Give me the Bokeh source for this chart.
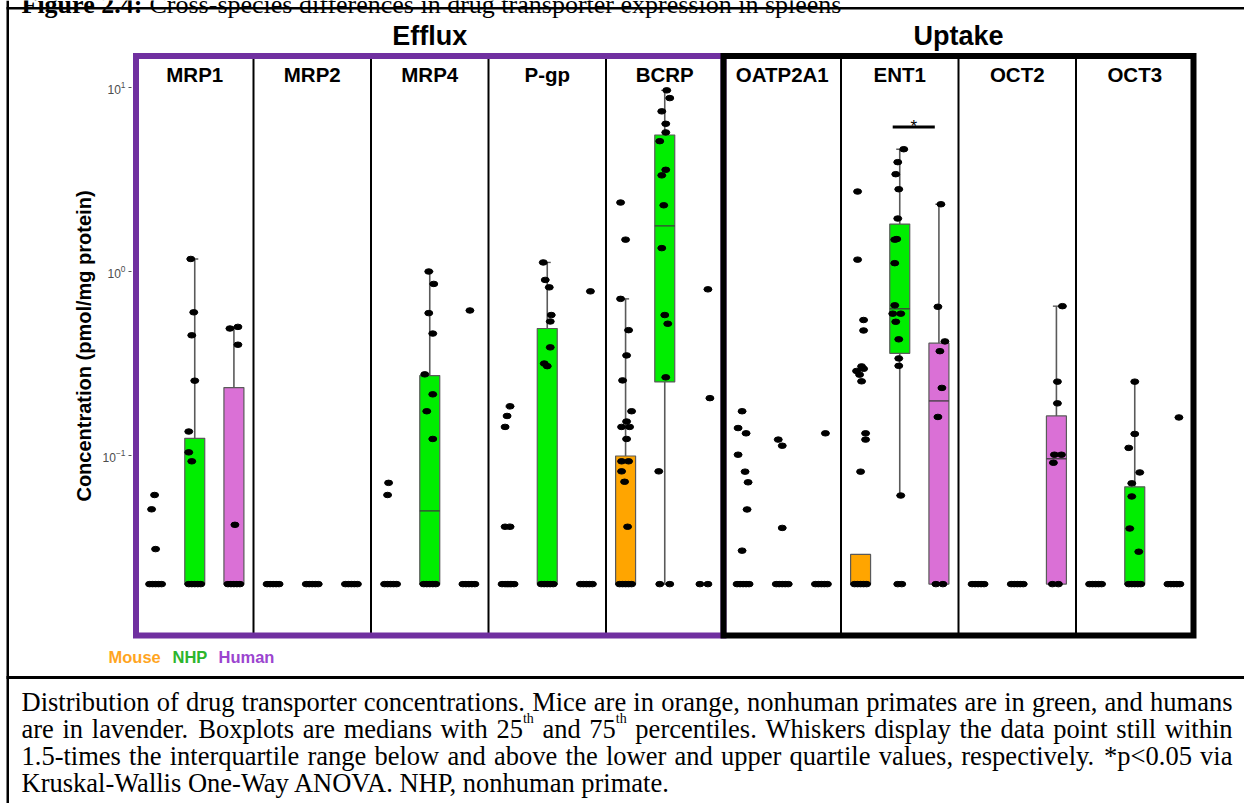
from bokeh.plotting import figure
from bokeh.models import (Range1d, FixedTicker, LogTickFormatter, Label, BoxAnnotation, ColumnDataSource,
                          LinearScale)
from bokeh.core.properties import value
from bokeh.embed import file_html
from bokeh.resources import INLINE

# ------------------------------------------------------------------ data
TRANSPORTERS = ["MRP1", "MRP2", "MRP4", "P-gp", "BCRP", "OATP2A1", "ENT1", "OCT2", "OCT3"]
FAMILIES = ["Efflux", "Uptake"]
FAMILY_FIRST = ["MRP1", "OATP2A1"]
FAMILY_LAST = ["BCRP", "OCT3"]
SPECIES = ["Mouse", "NHP", "Human"]
Y_TICKS = [0.1, 1.0, 10.0]
Y_LABEL = "Concentration (pmol/mg protein)"

LLOQ = 0.02                 # values below quantification are drawn at this level
DASH = [-6, -3, 0, 3, 6]    # horizontal jitter (px) of the overlapping LLOQ points


def at_lloq(offsets=DASH):
    return [(LLOQ, dx) for dx in offsets]


# (value pmol/mg protein, horizontal jitter in px)
PTS_MRP1 = {
    "Mouse": [(0.061, -1), (0.051, -4), (0.031, 0)] + at_lloq(),
    "NHP": [(1.17, -4), (0.60, -1), (0.45, -3), (0.255, 0), (0.135, -6), (0.104, -6), (0.093, -3)] + at_lloq(),
    "Human": [(0.49, -4), (0.50, 4), (0.40, 4), (0.042, 1)] + at_lloq(),
}
PTS_MRP2 = {"Mouse": at_lloq(), "NHP": at_lloq(), "Human": at_lloq()}
PTS_MRP4 = {
    "Mouse": [(0.071, -2), (0.061, -3)] + at_lloq(),
    "NHP": [(1.0, -1), (0.856, 4), (0.594, -1), (0.46, 3), (0.276, -5), (0.215, 3), (0.174, -3), (0.123, 3)] + at_lloq(),
    "Human": [(0.614, 1)] + at_lloq(),
}
PTS_PGP = {
    "Mouse": [(0.185, 2), (0.164, -1), (0.143, -3), (0.041, -3), (0.041, 2)] + at_lloq(),
    "NHP": [(1.12, -4), (0.90, -2), (0.82, 2), (0.58, 4), (0.535, 3), (0.387, 3), (0.316, -3), (0.306, 0)] + at_lloq(),
    "Human": [(0.78, 4)] + at_lloq(),
}
PTS_BCRP = {
    "Mouse": [(2.37, -5), (1.49, 0), (0.71, -5), (0.48, 3), (0.35, 1), (0.256, -3), (0.174, 6), (0.153, 1),
              (0.143, -4), (0.143, 4), (0.123, 1), (0.093, -4), (0.093, 3), (0.082, -4), (0.072, -1),
              (0.041, 2)] + at_lloq(),
    "NHP": [(9.65, 2), (8.76, 5), (7.42, -3), (6.35, 1), (5.7, 1), (5.11, -5), (3.57, 1), (3.33, -3),
            (2.29, -1), (1.34, -3), (0.58, 0), (0.52, 3), (0.266, 1), (0.082, -6)] + at_lloq([-5, 5]),
    "Human": [(0.80, 4), (0.205, 6)] + at_lloq([-4, 4]),
}
PTS_OATP2A1 = {
    "Mouse": [(0.174, -1), (0.141, -5), (0.132, 3), (0.101, -5), (0.0817, 2), (0.0715, 5), (0.0509, 4),
              (0.0304, -1)] + at_lloq(),
    "NHP": [(0.122, -4), (0.113, 0), (0.0404, 0)] + at_lloq(),
    "Human": [(0.132, 4)] + at_lloq(),
}
PTS_ENT1 = {
    "Mouse": [(2.72, -3), (1.16, -3), (0.545, 3), (0.478, 3), (0.305, 1), (0.296, 3), (0.288, -4), (0.275, -1),
              (0.253, 1), (0.132, 5), (0.122, 5), (0.0817, 0)] + at_lloq(),
    "NHP": [(4.62, 4), (3.93, -2), (3.38, -4), (2.8, -1), (1.94, -2), (1.49, -5), (1.50, -3), (1.11, -5),
            (0.655, -5), (0.59, -7), (0.59, 1), (0.533, -4), (0.428, -1), (0.337, -1), (0.307, -1),
            (0.0606, 1)] + at_lloq([-2, 2]),
    "Human": [(2.32, 2), (0.643, -1), (0.417, 6), (0.369, 1), (0.233, 3), (0.162, -1)] + at_lloq([-3, 4]),
}
PTS_OCT2 = {
    "Mouse": at_lloq(),
    "NHP": at_lloq(),
    "Human": [(0.648, 6), (0.252, 1), (0.192, 1), (0.101, -2), (0.101, 5), (0.0913, -3)] + at_lloq([-4, 2]),
}
PTS_OCT3 = {
    "Mouse": at_lloq(),
    "NHP": [(0.252, 0), (0.131, 0), (0.110, -6), (0.0809, 5), (0.0706, -3), (0.0599, -3), (0.0401, -5),
            (0.030, 4)] + at_lloq(),
    "Human": [(0.161, 5)] + at_lloq(),
}
POINTS = {"MRP1": PTS_MRP1, "MRP2": PTS_MRP2, "MRP4": PTS_MRP4, "P-gp": PTS_PGP, "BCRP": PTS_BCRP,
          "OATP2A1": PTS_OATP2A1, "ENT1": PTS_ENT1, "OCT2": PTS_OCT2, "OCT3": PTS_OCT3}

# box-plot summaries
BOX_TRANSPORTER = ["MRP1", "MRP1", "MRP4", "P-gp", "BCRP", "BCRP", "ENT1", "ENT1", "ENT1", "OCT2", "OCT3"]
BOX_SPECIES = ["NHP", "Human", "NHP", "NHP", "Mouse", "NHP", "Mouse", "NHP", "Human", "Human", "NHP"]
BOX_LOW = [0.02, 0.02, 0.02, 0.02, 0.02, 0.02, 0.02, 0.0606, 0.02, 0.02, 0.02]
BOX_Q1 = [0.02, 0.02, 0.02, 0.02, 0.02, 0.251, 0.02, 0.359, 0.02, 0.02, 0.02]
BOX_MEDIAN = [0.02, 0.02, 0.05, 0.02, 0.02, 1.77, 0.02, 0.627, 0.198, 0.096, 0.02]
BOX_Q3 = [0.124, 0.234, 0.272, 0.49, 0.0994, 5.52, 0.029, 1.81, 0.408, 0.164, 0.0676]
BOX_HIGH = [1.17, 0.50, 1.0, 1.12, 0.71, 9.65, 0.029, 4.62, 2.32, 0.648, 0.252]

# significance annotation
SIG_TRANSPORTER = ["ENT1"]
SIG_FROM = ["NHP"]
SIG_TO = ["Human"]
SIG_Y = [6.1]
SIG_TEXT = ["*"]

FIG_TITLE_BOLD = "Figure 2.4:"
FIG_TITLE_REST = "Cross-species differences in drug transporter expression in spleens"
# caption lines ("^" marks a superscript suffix)
CAPTION_LINES = [
    "Distribution of drug transporter concentrations. Mice are in orange, nonhuman primates are in green, and humans",
    "are in lavender. Boxplots are medians with 25^th and 75^th percentiles. Whiskers display the data point still within",
    "1.5-times the interquartile range below and above the lower and upper quartile values, respectively. *p<0.05 via",
    "Kruskal-Wallis One-Way ANOVA. NHP, nonhuman primate.",
]
CAPTION_JUSTIFIED = [True, True, True, False]

# ------------------------------------------------------------------ style / layout
W, H = 1244, 803
AXIS_PX = 131                       # x pixel of the y axis line
PANEL_LEFT_PX, PANEL_RIGHT_PX = 135.5, 1193.0
PANEL_TOP_PX, PANEL_BOTTOM_PX = 55.5, 635.0
ONE_PX, DECADE_PX = 271.0, 184.0    # pixel row of 10^0, pixels per decade
PX_PER_PANEL = (PANEL_RIGHT_PX - PANEL_LEFT_PX) / len(TRANSPORTERS)
SPECIES_POS = {"Mouse": 1 / 6, "NHP": 0.5, "Human": 5 / 6}
BOX_HALF = 0.085
CAP_HALF = 0.03
BOX_FILL = {"Mouse": "#FFA500", "NHP": "#00EE00", "Human": "#DA70D6"}
LEGEND_COLOR = {"Mouse": "#FFA51F", "NHP": "#2DB52D", "Human": "#9B45CF"}
LEGEND_X = {"Mouse": 108, "NHP": 172, "Human": 218}
FAMILY_COLOR = ["#7030A0", "#000000"]
SANS = "Liberation Sans"
SERIF = "Liberation Serif"
CAP_SIZE = 26.5
SUP_SIZE = 14
SUP_RISE = 10
TEXT_LEFT, TEXT_RIGHT = 21, 1232
CAP_BASELINES = [701, 728, 755, 782]

# Times / Liberation Serif advance widths (1/1000 em) used to justify the caption
TIMES_W = dict(zip(" .,-*<:()", [250, 250, 250, 333, 500, 564, 278, 333, 333]))
TIMES_W.update({d: 500 for d in "0123456789"})
TIMES_W.update(dict(zip("abcdefghijklmnopqrstuvwxyz",
                        [444, 500, 444, 500, 444, 333, 500, 500, 278, 278, 500, 278, 778, 500, 500, 500, 500,
                         333, 389, 278, 500, 500, 722, 500, 500, 444])))
TIMES_W.update(dict(zip("ABCDEFGHIJKLMNOPQRSTUVWXYZ",
                        [722, 667, 667, 722, 611, 556, 722, 722, 333, 389, 722, 611, 889, 722, 722, 556, 722,
                         667, 556, 611, 722, 722, 944, 722, 722, 611])))

idx = {t: i for i, t in enumerate(TRANSPORTERS)}


def xpos(t, s):
    return idx[t] + SPECIES_POS[s]


# the frame covers the whole page; the y axis is pinned at AXIS_PX
x_range = Range1d(-PANEL_LEFT_PX / PX_PER_PANEL, len(TRANSPORTERS) + (W - PANEL_RIGHT_PX) / PX_PER_PANEL)
y_range = Range1d(10 ** ((ONE_PX - H) / DECADE_PX), 10 ** (ONE_PX / DECADE_PX))

p = figure(width=W, height=H, x_range=x_range, y_range=y_range, y_axis_type="log", x_axis_type=None,
           toolbar_location=None, output_backend="svg", min_border=0,
           min_border_left=0, min_border_right=0, min_border_top=0, min_border_bottom=0)
p.extra_x_ranges = {"px_x": Range1d(0, W)}
p.extra_y_ranges = {"px_y": Range1d(H, 0)}
p.extra_x_scales = {"px_x": LinearScale()}
p.extra_y_scales = {"px_y": LinearScale()}
p.outline_line_color = None
p.xgrid.grid_line_color = None
p.ygrid.grid_line_color = None
p.background_fill_color = "white"
p.border_fill_color = "white"

ax = p.yaxis[0]
ax.fixed_location = (AXIS_PX - PANEL_LEFT_PX) / PX_PER_PANEL
ax.bounds = (10 ** ((ONE_PX - PANEL_BOTTOM_PX) / DECADE_PX), 10 ** ((ONE_PX - PANEL_TOP_PX) / DECADE_PX))
ax.ticker = FixedTicker(ticks=Y_TICKS)
ax.formatter = LogTickFormatter()
ax.axis_line_color = None
ax.major_tick_line_color = "#555555"
ax.major_tick_out = 3
ax.major_tick_in = 0
ax.minor_tick_line_color = None
ax.major_label_standoff = 3
ax.major_label_text_font = SANS
ax.major_label_text_font_size = "12px"
ax.major_label_text_color = "#4D4D4D"
ax.axis_label = Y_LABEL
ax.axis_label_text_font = SANS
ax.axis_label_text_font_style = "bold"
ax.axis_label_text_font_size = "20px"
ax.axis_label_text_color = "black"
ax.axis_label_standoff = 5

# panel dividers
fam_bounds = [idx[f] for f in FAMILY_FIRST]
div_x = [i for i in range(1, len(TRANSPORTERS)) if i not in fam_bounds]
p.segment(x0=div_x, x1=div_x, y0=[PANEL_TOP_PX] * len(div_x), y1=[PANEL_BOTTOM_PX] * len(div_x),
          y_range_name="px_y", line_color="black", line_width=2)

# boxes
bx = [xpos(t, s) for t, s in zip(BOX_TRANSPORTER, BOX_SPECIES)]
wh_x, wh_y0, wh_y1 = [], [], []
cap_x, cap_y = [], []
for x, lo, q1, q3, hi in zip(bx, BOX_LOW, BOX_Q1, BOX_Q3, BOX_HIGH):
    if hi > q3:
        wh_x.append(x); wh_y0.append(q3); wh_y1.append(hi)
        cap_x.append(x); cap_y.append(hi)
    if lo < q1:
        wh_x.append(x); wh_y0.append(lo); wh_y1.append(q1)
        cap_x.append(x); cap_y.append(lo)
p.segment(x0=wh_x, x1=wh_x, y0=wh_y0, y1=wh_y1, line_color="#5A5A5A", line_width=1.6)
p.segment(x0=[x - CAP_HALF for x in cap_x], x1=[x + CAP_HALF for x in cap_x], y0=cap_y, y1=cap_y,
          line_color="#5A5A5A", line_width=1.4)
box_src = ColumnDataSource(dict(
    left=[x - BOX_HALF for x in bx], right=[x + BOX_HALF for x in bx],
    bottom=BOX_Q1, top=BOX_Q3, color=[BOX_FILL[s] for s in BOX_SPECIES]))
p.quad(left="left", right="right", bottom="bottom", top="top", source=box_src,
       fill_color="color", line_color="#5A5A5A", line_width=1.2)
p.segment(x0=[x - BOX_HALF for x in bx], x1=[x + BOX_HALF for x in bx], y0=BOX_MEDIAN, y1=BOX_MEDIAN,
          line_color="#3C3C3C", line_width=1.3)

# points
pt_x, pt_y = [], []
for t in TRANSPORTERS:
    for s in SPECIES:
        for v, dx in POINTS[t][s]:
            pt_x.append(xpos(t, s) + dx / PX_PER_PANEL)
            pt_y.append(v)
p.ellipse(x=pt_x, y=pt_y, width=8, height=5.5, width_units="screen", height_units="screen",
          fill_color="black", line_color="black")

# significance
for t, a, b, yv, txt in zip(SIG_TRANSPORTER, SIG_FROM, SIG_TO, SIG_Y, SIG_TEXT):
    x0, x1 = xpos(t, a) - 0.06, xpos(t, b) - 0.035
    p.segment(x0=[x0], x1=[x1], y0=[yv], y1=[yv], line_color="black", line_width=3)
    p.text(x=[(x0 + x1) / 2], y=[yv], text=[txt], text_align="center", text_baseline="alphabetic",
           text_font=value(SANS), text_font_size="17px", text_color="black")

# family frames + headers
for fam, first, last, col in zip(FAMILIES, FAMILY_FIRST, FAMILY_LAST, FAMILY_COLOR):
    p.quad(left=[idx[first]], right=[idx[last] + 1], bottom=[PANEL_BOTTOM_PX], top=[PANEL_TOP_PX],
           y_range_name="px_y", fill_color=None, line_color=col, line_width=6, line_join="miter")
    p.add_layout(Label(x=(idx[first] + idx[last] + 1) / 2, y=35, y_range_name="px_y", text=fam,
                       text_align="center", text_baseline="middle", text_font=SANS,
                       text_font_style="bold", text_font_size="27px", text_color="black"))

# strip labels
p.text(x=[i + 0.5 for i in range(len(TRANSPORTERS))], y=[74] * len(TRANSPORTERS), y_range_name="px_y",
       text=TRANSPORTERS, text_align="center", text_baseline="middle", text_font=value(SANS),
       text_font_style="bold", text_font_size="20.5px", text_color="black")

# legend (coloured species names)
for s in SPECIES:
    p.add_layout(Label(x=LEGEND_X[s], y=656, x_range_name="px_x", y_range_name="px_y", text=s,
                       text_align="left", text_baseline="middle", text_font=SANS, text_font_style="bold",
                       text_font_size="16.5px", text_color=LEGEND_COLOR[s]))

# table rules of the document
for l, r, t, b in [(6, 8.5, 0, H), (6, W, 6.5, 9), (6, W, 675.5, 678.5)]:
    p.add_layout(BoxAnnotation(left=l, right=r, top=t, bottom=b, x_range_name="px_x", y_range_name="px_y",
                               fill_color="black", fill_alpha=1.0, line_color=None, level="overlay"))


def page_text(text, x, y, size, align="left", style="normal"):
    p.add_layout(Label(x=x, y=y, x_range_name="px_x", y_range_name="px_y", text=text, text_align=align,
                       text_baseline="alphabetic", text_font=SERIF, text_font_size=f"{size}px",
                       text_font_style=style, text_color="black"))


def serif_width(s, size):
    return sum(TIMES_W.get(ch, 500) for ch in s) / 1000 * size


def word_width(word):
    main, _, sup = word.partition("^")
    return serif_width(main, CAP_SIZE) + serif_width(sup, SUP_SIZE)


def put_word(word, x, y):
    main, _, sup = word.partition("^")
    page_text(main, x, y, CAP_SIZE)
    if sup:
        page_text(sup, x + serif_width(main, CAP_SIZE), y - SUP_RISE, SUP_SIZE)


# figure title (cut off by the page top, as in the source)
page_text(FIG_TITLE_BOLD, TEXT_LEFT, 4, 26, style="bold")
page_text(FIG_TITLE_REST, TEXT_LEFT + 128, 4, 26)

# caption, justified like the document
for line, just, base in zip(CAPTION_LINES, CAPTION_JUSTIFIED, CAP_BASELINES):
    if not just:
        page_text(line, TEXT_LEFT, base, CAP_SIZE)
        continue
    words = line.split(" ")
    widths = [word_width(w) for w in words]
    gap = (TEXT_RIGHT - TEXT_LEFT - sum(widths)) / (len(words) - 1)
    x = TEXT_LEFT
    for w, wd in zip(words, widths):
        put_word(w, x, base)
        x += wd + gap

open("out.html", "w").write(file_html(p, INLINE))
